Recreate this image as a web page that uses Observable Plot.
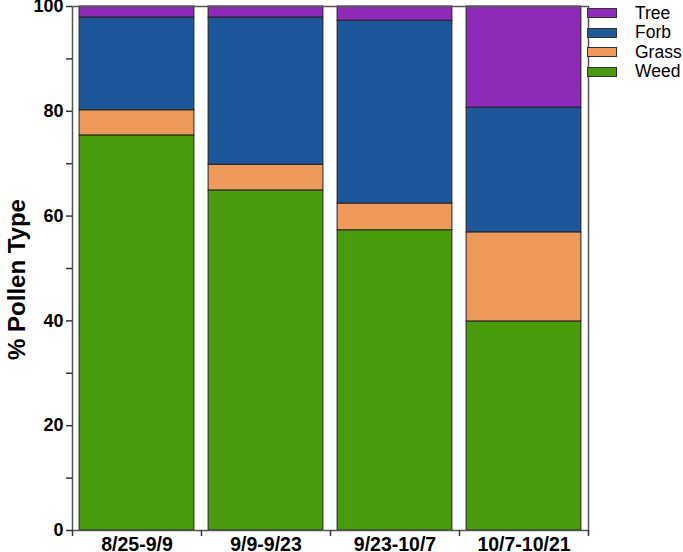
<!DOCTYPE html>
<html>
<head>
<meta charset="utf-8">
<script src="https://cdn.jsdelivr.net/npm/d3@7"></script>
<script src="https://cdn.jsdelivr.net/npm/@observablehq/plot@0.6"></script>
<style>
  html, body { margin: 0; padding: 0; background: #fff; }
  #wrap { position: relative; width: 683px; height: 552px; font-family: "Liberation Sans", Arial, sans-serif; overflow: hidden; }
  #legend { position: absolute; left: 587px; top: 3.5px; font-size: 17.5px; }
  .item { display: flex; align-items: center; height: 19.5px; }
  .sw { width: 30px; height: 10px; box-sizing: border-box; border: 1px solid #333; margin-right: 18px; }
</style>
</head>
<body>
<div id="wrap"><div id="chart"></div><div id="legend"></div></div>
<script>
const periods = ["8/25-9/9", "9/9-9/23", "9/23-10/7", "10/7-10/21"];
const types = ["Weed", "Grass", "Forb", "Tree"];
const weed  = [75.4, 64.9, 57.3, 39.9];
const grass = [4.8, 4.9, 5.1, 17.0];
const forb  = [17.7, 28.1, 34.9, 23.8];
const tree  = [2.1, 2.1, 2.7, 19.3];
const colors = ["#4a9a0e", "#ee9a5a", "#1e5799", "#8e2ab8"];
const majorTicks = [0, 20, 40, 60, 80, 100];
const minorTicks = [10, 30, 50, 70, 90];
const yLabel = "% Pollen Type";

const series = [weed, grass, forb, tree];
const rows = [];
periods.forEach((p, i) => {
  let base = 0;
  series.forEach((s, k) => {
    rows.push({i, period: p, type: types[k], y1: base, y2: base + s[i]});
    base += s[i];
  });
});

const pad = 0.055;
const chart = Plot.plot({
  width: 683,
  height: 552,
  marginLeft: 72,
  marginRight: 95,
  marginTop: 6,
  marginBottom: 22,
  style: {fontFamily: "'Liberation Sans', Arial, sans-serif", fontSize: "17px", fontWeight: "bold", color: "#000", overflow: "visible"},
  x: {domain: [0, periods.length], axis: null},
  y: {domain: [0, 100], axis: null},
  color: {domain: types, range: colors},
  marks: [
    Plot.rect(rows, {x1: d => d.i + pad, x2: d => d.i + 1 - pad, y1: "y1", y2: "y2", fill: "type", stroke: "#222", strokeWidth: 1}),
    Plot.frame({stroke: "#555", strokeWidth: 1.5}),
    Plot.axisY({ticks: majorTicks, tickSize: 6, tickPadding: 3, tickFormat: d => d, label: null, stroke: "#333", strokeWidth: 1.5, fontSize: 18}),
    Plot.axisY({ticks: minorTicks, tickSize: 6, tickFormat: () => "", label: null, stroke: "#333", strokeWidth: 1.5}),
    Plot.axisX({ticks: d3.range(periods.length + 1), tickSize: 6, tickFormat: () => "", label: null, stroke: "#333", strokeWidth: 1.5}),
    Plot.axisX({ticks: periods.map((_, i) => i + 0.5), tickSize: 0, tickPadding: 7, tickFormat: v => periods[Math.round(v - 0.5)], label: null, fontSize: 19.5}),
    Plot.text([yLabel], {frameAnchor: "left", textAnchor: "middle", rotate: -90, dx: -55, dy: 11, fontSize: 24, fontWeight: "bold", fill: "#000"})
  ]
});
document.getElementById("chart").appendChild(chart);

const legend = document.getElementById("legend");
[...types].reverse().forEach(t => {
  const item = document.createElement("div");
  item.className = "item";
  const sw = document.createElement("div");
  sw.className = "sw";
  sw.style.background = colors[types.indexOf(t)];
  const lab = document.createElement("span");
  lab.textContent = t;
  item.appendChild(sw);
  item.appendChild(lab);
  legend.appendChild(item);
});
</script>
</body>
</html>
